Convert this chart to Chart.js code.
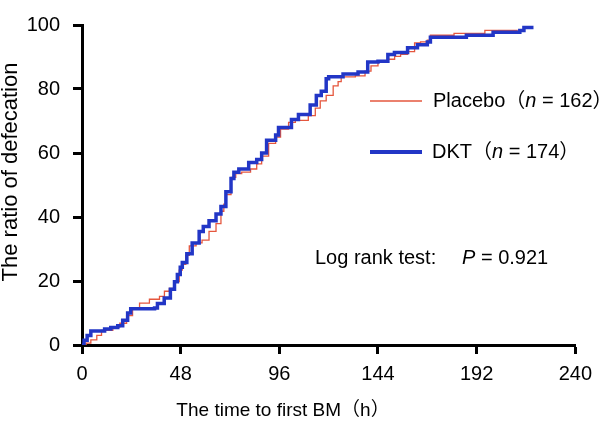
<!DOCTYPE html>
<html>
<head>
<meta charset="utf-8">
<script src="https://cdn.jsdelivr.net/npm/chart.js@4.4.0/dist/chart.umd.min.js"></script>
<style>
  html, body { margin: 0; padding: 0; background: #fff; }
  #wrap { width: 600px; height: 421px; position: relative; }
</style>
</head>
<body>
<div id="wrap"><canvas id="km"></canvas></div>
<script>
// Cumulative ratio of defecation (%)
const placeboTimes = [0, 2, 4.3, 7.2, 9.5, 15, 18.4, 21.7, 24.6, 28, 32.8, 37.7, 40.1, 42.5, 44.9, 47.3, 48.8, 50.5, 52.2, 55.5, 58.4, 61.8, 65.2, 67.6, 69, 70, 72.5, 74.8, 77.7, 82, 85, 87.4, 90.8, 94.2, 96.6, 100.5, 103.8, 110.1, 113.5, 115.9, 118.8, 122.2, 124.6, 126.1, 133, 137.7, 140.6, 144, 148.8, 152.1, 155, 158.4, 161.8, 164.7, 168, 169.5, 181, 196, 212];
const placeboRatio = [0, 0.6, 1.6, 3, 4.6, 5.6, 6.8, 9.2, 11.6, 13.1, 14.3, 15.2, 16.8, 17.7, 19.8, 23.4, 25.2, 28, 31, 31.9, 32.8, 35.5, 37.9, 41.8, 44, 47, 52.4, 53.6, 54, 55, 56.6, 59, 63, 65, 67.5, 69.6, 70.2, 71.7, 74, 76.3, 78, 81, 82.3, 83.8, 84.1, 85.6, 87.2, 88.4, 89.3, 90.2, 90.8, 91.7, 94.4, 94.7, 95.3, 96.8, 97.4, 98.3, 98.3];

const dktTimes = [0, 1, 2.5, 4.3, 11, 14, 17.4, 19.8, 22.2, 23.7, 35.3, 36.7, 40, 43, 45, 46.4, 47.8, 48.8, 51, 53.6, 57, 59, 61.8, 65.2, 67.6, 70, 72.5, 73.9, 76.3, 81.1, 85, 87.4, 89.8, 94.2, 95.6, 101.9, 105.3, 111, 114, 116.4, 118.8, 120, 127, 134.3, 139, 144, 148.8, 152, 158.4, 163.2, 168, 169.5, 187, 200, 213, 215, 218.8];
const dktRatio = [0, 1.5, 3, 4.4, 5, 5.5, 6, 7.7, 10, 11.3, 11.6, 13, 14.7, 17.4, 19.8, 22, 24.3, 25.8, 28.5, 31.9, 35.5, 37, 38.8, 40.9, 43.3, 47.9, 52, 54, 55, 57, 58, 60, 64, 65.6, 68, 70.5, 72, 75, 78, 79.3, 83.2, 83.8, 84.7, 85.3, 88.4, 88.7, 90.8, 91.4, 92.9, 93.8, 94.7, 96.2, 96.8, 97.7, 98.3, 99.2, 99.8];

const xTicks = [0, 48, 96, 144, 192, 240];
const yTicks = [0, 20, 40, 60, 80, 100];

const FONT = '"Liberation Sans", Arial, "Noto Sans CJK JP", sans-serif';
const RED = '#e5573e';
const BLUE = '#2236c6';

function toPoints(times, vals) {
  return times.map((t, i) => ({ x: t, y: vals[i] }));
}

// draw a run of text pieces, some italic
function drawRuns(ctx, x, y, runs, size) {
  let cx = x;
  runs.forEach(r => {
    ctx.font = (r.italic ? 'italic ' : '') + size + 'px ' + FONT;
    ctx.fillText(r.text, cx, y);
    cx += ctx.measureText(r.text).width;
  });
}

const textPlugin = {
  id: 'kmText',
  afterDraw(chart) {
    const ctx = chart.ctx;
    ctx.save();
    ctx.fillStyle = '#000';
    ctx.textBaseline = 'middle';
    ctx.textAlign = 'left';

    // axis titles
    ctx.save();
    ctx.translate(11, 172);
    ctx.rotate(-Math.PI / 2);
    ctx.textAlign = 'center';
    ctx.font = '22px ' + FONT;
    ctx.fillText('The ratio of defecation', 0, 0);
    ctx.restore();

    ctx.textAlign = 'center';
    ctx.font = '19px ' + FONT;
    ctx.fillText('The time to first BM（h）', 283, 411);
    ctx.textAlign = 'left';

    // legend
    ctx.lineCap = 'butt';
    ctx.strokeStyle = RED;
    ctx.lineWidth = 1.5;
    ctx.beginPath(); ctx.moveTo(370, 101); ctx.lineTo(422, 101); ctx.stroke();
    ctx.strokeStyle = BLUE;
    ctx.lineWidth = 4;
    ctx.beginPath(); ctx.moveTo(370, 152); ctx.lineTo(422, 152); ctx.stroke();

    drawRuns(ctx, 433, 101, [{ text: 'Placebo（' }, { text: 'n', italic: true }, { text: ' = 162）' }], 20);
    drawRuns(ctx, 432, 152, [{ text: 'DKT（' }, { text: 'n', italic: true }, { text: ' = 174）' }], 20);

    // test result
    drawRuns(ctx, 315, 258, [{ text: 'Log rank test:' }], 20);
    drawRuns(ctx, 462, 258, [{ text: 'P', italic: true }, { text: ' = 0.921' }], 20);
    ctx.restore();
  }
};

const axisCommon = {
  grid: { display: true, drawOnChartArea: false, drawTicks: true, tickLength: 9, tickWidth: 3, tickColor: '#000', color: '#000' },
  border: { display: true, color: '#000', width: 3 },
};

new Chart(document.getElementById('km'), {
  type: 'line',
  data: {
    datasets: [
      {
        label: 'DKT',
        data: toPoints(dktTimes, dktRatio),
        borderColor: BLUE,
        borderWidth: 3.5,
        stepped: 'before',
        pointRadius: 0,
        fill: false,
        order: 0
      },
      {
        label: 'Placebo',
        data: toPoints(placeboTimes, placeboRatio),
        borderColor: RED,
        borderWidth: 1.3,
        stepped: 'before',
        pointRadius: 0,
        fill: false,
        order: 1
      }
    ]
  },
  options: {
    responsive: true,
    maintainAspectRatio: false,
    animation: false,
    layout: { padding: { top: 14, right: 22, left: 0, bottom: 0 } },
    plugins: { legend: { display: false }, tooltip: { enabled: false } },
    scales: {
      x: {
        type: 'linear',
        min: 0,
        max: 240,
        ...axisCommon,
        afterBuildTicks: s => { s.ticks = xTicks.map(v => ({ value: v })); },
        afterFit: s => { s.height = 76; },
        ticks: { color: '#000', font: { size: 20, family: FONT }, padding: 8, maxRotation: 0 }
      },
      y: {
        min: 0,
        max: 100,
        ...axisCommon,
        afterBuildTicks: s => { s.ticks = yTicks.map(v => ({ value: v })); },
        afterFit: s => { s.width = 82; },
        ticks: { color: '#000', font: { size: 20, family: FONT }, padding: 13 }
      }
    }
  },
  plugins: [textPlugin]
});
</script>
</body>
</html>
